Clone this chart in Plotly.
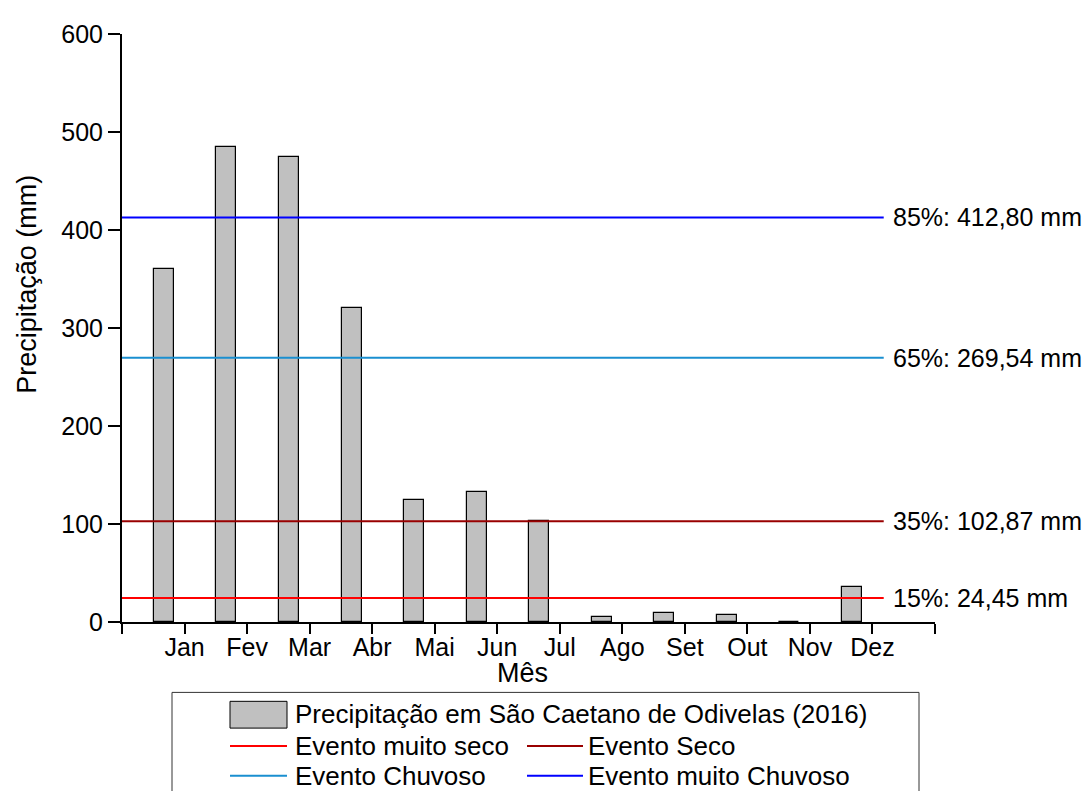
import plotly.graph_objects as go

months = ["Jan", "Fev", "Mar", "Abr", "Mai", "Jun", "Jul", "Ago", "Set", "Out", "Nov", "Dez"]
precip = [360, 485, 475, 320, 125, 133, 103, 5.5, 9.5, 7.5, 0, 36]

thr_names = ["Evento muito seco", "Evento Seco", "Evento Chuvoso", "Evento muito Chuvoso"]
thr_pct = ["15%", "35%", "65%", "85%"]
thr_vals = [24.45, 102.87, 269.54, 412.80]
thr_labels = ["24,45", "102,87", "269,54", "412,80"]
thr_colors = ["#ff0000", "#990000", "#1a8fd0", "#0000ff"]

FONT = "Liberation Sans, Arial, sans-serif"

# canvas geometry (screen pixels; page body adds 8px offset)
W, H = 1090, 791
OFF = 8
L, R, T, B = 122, 935, 29, 622


def px(x):
    return (x - L) / (R - L)


def py(y):
    return (B - y) / (B - T)


fig = go.Figure()

bar_x = [i + 1 - 0.33 for i in range(len(months))]
fig.add_trace(go.Bar(
    x=bar_x, y=precip, width=0.32,
    marker=dict(color="#c0c0c0", line=dict(color="#000000", width=1.2)),
    showlegend=False,
))

for name, v, c in zip(thr_names, thr_vals, thr_colors):
    fig.add_trace(go.Scatter(
        x=[0, 12.18], y=[v, v], mode="lines",
        line=dict(color=c, width=2), showlegend=False, name=name,
    ))

annotations = []
for p, v, lab in zip(thr_pct, thr_vals, thr_labels):
    annotations.append(dict(
        x=12.3, y=v, xref="x", yref="y", text=f"{p}: {lab} mm",
        showarrow=False, xanchor="left", yanchor="middle",
        font=dict(family=FONT, size=25, color="#000"),
    ))

annotations.append(dict(
    x=px(522), y=py(673), xref="paper", yref="paper", text="Mês",
    showarrow=False, xanchor="center", yanchor="middle",
    font=dict(family=FONT, size=27, color="#000"),
))
annotations.append(dict(
    x=px(27), y=py(282), xref="paper", yref="paper", text="Precipitação (mm)",
    showarrow=False, xanchor="center", yanchor="middle", textangle=-90,
    font=dict(family=FONT, size=27, color="#000"),
))

shapes = []
# legend box (bottom cut off by canvas)
shapes.append(dict(type="rect", xref="paper", yref="paper",
                   x0=px(172), x1=px(919), y0=py(830), y1=py(693),
                   line=dict(color="#333", width=1), fillcolor="rgba(0,0,0,0)"))
# bar swatch
shapes.append(dict(type="rect", xref="paper", yref="paper",
                   x0=px(230), x1=px(287), y0=py(729), y1=py(702),
                   line=dict(color="#000", width=1), fillcolor="#c0c0c0"))
legend_rows = [(230, 287, 293, 747), (527, 583, 586, 747), (230, 287, 293, 777), (527, 583, 586, 777)]
for (x0, x1, tx, yy), name, c in zip(legend_rows, thr_names, thr_colors):
    shapes.append(dict(type="line", xref="paper", yref="paper",
                       x0=px(x0), x1=px(x1), y0=py(yy), y1=py(yy),
                       line=dict(color=c, width=2)))
    annotations.append(dict(x=px(tx), y=py(yy), xref="paper", yref="paper", text=name,
                            showarrow=False, xanchor="left", yanchor="middle",
                            font=dict(family=FONT, size=26, color="#000")))
annotations.append(dict(x=px(293), y=py(715), xref="paper", yref="paper",
                        text="Precipitação em São Caetano de Odivelas (2016)",
                        showarrow=False, xanchor="left", yanchor="middle",
                        font=dict(family=FONT, size=26, color="#000")))

fig.update_layout(
    width=W, height=H,
    margin=dict(l=L - OFF, r=W - (R - OFF), t=T - OFF, b=H - (B - OFF)),
    paper_bgcolor="white", plot_bgcolor="white",
    font=dict(family=FONT, size=25, color="#000"),
    annotations=annotations, shapes=shapes,
    showlegend=False,
    bargap=0,
)
fig.update_xaxes(
    range=[0, 13], tickvals=list(range(14)), ticktext=[""] + months + [""],
    showgrid=False, zeroline=False, showline=True, linecolor="#000", linewidth=2,
    ticks="outside", ticklen=10, tickwidth=2, tickcolor="#000",
    ticklabelstandoff=-8,
    tickfont=dict(family=FONT, size=25, color="#000"),
)
fig.update_yaxes(
    range=[0, 600], tickvals=[0, 100, 200, 300, 400, 500, 600],
    showgrid=False, zeroline=False, showline=True, linecolor="#000", linewidth=2,
    ticks="outside", ticklen=12, tickwidth=2, tickcolor="#000",
    tickfont=dict(family=FONT, size=25, color="#000"),
)

fig.write_html("out.html")
